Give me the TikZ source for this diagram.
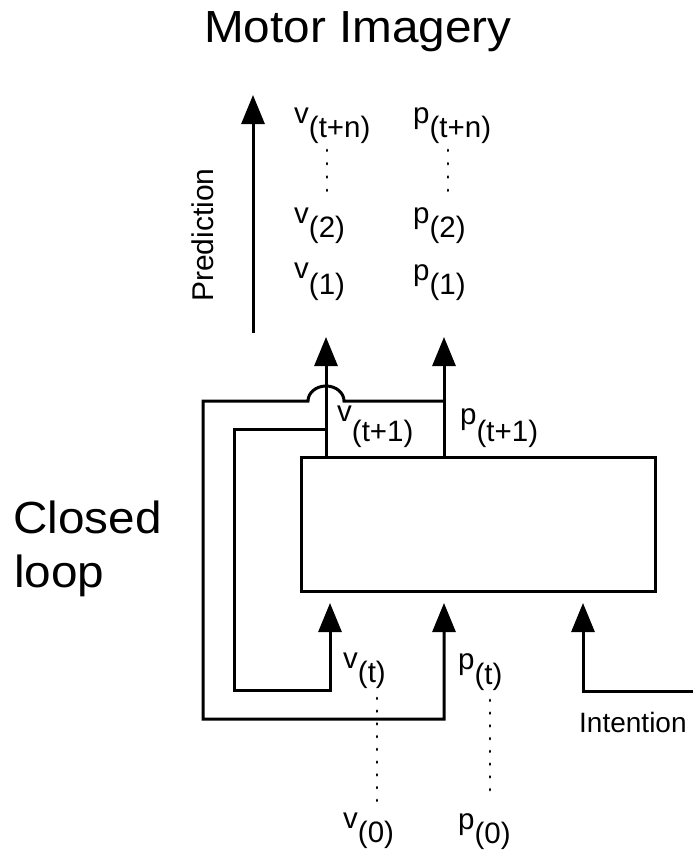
\documentclass[tikz,border=0pt]{standalone}
\usepackage{fontspec}
\setmainfont{Liberation Sans}
\newfontfamily\widefont[FakeStretch=1.06]{Liberation Sans}
\usetikzlibrary{arrows.meta,calc}
\newcommand\lab[3][14pt]{#2\raisebox{-#1}{(#3)}}
\begin{document}
\begin{tikzpicture}[x=1pt,y=-1pt,
  arr/.style={line width=3pt,-{Triangle[length=29pt,width=23pt]}},
  dotline/.style={line width=2.8pt,line cap=round,dash pattern=on 0.8pt off 11.95pt},
  dottop/.style={line width=2.8pt,line cap=round,dash pattern=on 0.8pt off 12.5pt},
  lbl/.style={inner sep=0pt,anchor=base west,font=\fontsize{29.5}{34}\selectfont},
  big/.style={inner sep=0pt,anchor=base west,font=\widefont\fontsize{45}{54}\selectfont},
  mid/.style={inner sep=0pt,font=\fontsize{30}{36}\selectfont}]
\useasboundingbox (0,0) rectangle (693,851);

% main box
\node[draw,line width=3pt,inner sep=0pt,minimum width=354pt,minimum height=134pt] (box) at (478,524) {};

% top output arrows
\coordinate (vtip) at (326,337);
\coordinate (ptip) at (444,337);
\draw[arr] (box.north -| vtip) -- (vtip);
\draw[arr] (box.north -| ptip) -- (ptip);

% outer loop (p feedback)
\coordinate (oj) at (444,401);
\coordinate (otl) at (203,401);
\coordinate (obl) at (203,719);
\coordinate (obr) at (444,719);
\coordinate (ptin) at (444,603);
\draw[arr] (oj) -- (344,401) arc[start angle=0,end angle=180,x radius=18pt,y radius=15pt] -- (otl) -- (obl) -- (obr) -- (ptin);

% inner loop (v feedback)
\coordinate (ij) at (326,429);
\coordinate (itl) at (234,429);
\coordinate (ibl) at (234,690);
\coordinate (ibr) at (330,690);
\coordinate (vtin) at (330,603);
\draw[arr] (ij) -- (itl) -- (ibl) -- (ibr) -- (vtin);

% intention
\coordinate (ie) at (693,691);
\coordinate (ic) at (583,691);
\coordinate (itin) at (583,603);
\draw[arr] (ie) -- (ic) -- (itin);

% prediction arrow
\coordinate (pb) at (253,333);
\coordinate (pt) at (253,95);
\draw[arr] (pb) -- (pt);

% labels
\node[lbl] (vtn) at (294,123) {\lab{v}{t+n}};
\node[lbl] (ptn) at (413,123) {\lab{p}{t+n}};
\node[lbl] (v2) at (294,223) {\lab{v}{2}};
\node[lbl] (p2) at (413,223) {\lab{p}{2}};
\node[lbl] (v1) at (294,278) {\lab[16pt]{v}{1}};
\node[lbl] (p1) at (413,280) {\lab[14pt]{p}{1}};
\node[lbl] (vt1) at (337,421) {\lab[20pt]{v}{t+1}};
\node[lbl] (pt1) at (460,424) {\lab[17pt]{p}{t+1}};
\node[lbl] (vt) at (343,668) {\lab{v}{t}};
\node[lbl] (ptl) at (458,669) {\lab[15pt]{p}{t}};
\node[lbl] (v0) at (343,828) {\lab{v}{0}};
\node[lbl] (p0) at (458,829) {\lab{p}{0}};

% dots
\coordinate (d1a) at (327,150); \coordinate (d1b) at (327,191);
\coordinate (d2a) at (448,150); \coordinate (d2b) at (448,191);
\coordinate (d3a) at (377,698); \coordinate (d3b) at (377,801);
\coordinate (d4a) at (490,700); \coordinate (d4b) at (490,801);
\draw[dottop] (d1a) -- (d1b);
\draw[dottop] (d2a) -- (d2b);
\draw[dotline] (d3a) -- (d3b);
\draw[dotline] (d4a) -- (d4b);

% texts
\node[big] (title) at (204,43) {Motor Imagery};
\node[big] (closed) at (13,533) {Closed};
\node[big] (loop) at (14,587) {loop};
\node[mid,rotate=90,anchor=base] (pred) at (213,235) {Prediction};
\node[inner sep=0pt,anchor=base west,font=\fontsize{28}{34}\selectfont] (int) at (579,732) {Intention};
\end{tikzpicture}
\end{document}
